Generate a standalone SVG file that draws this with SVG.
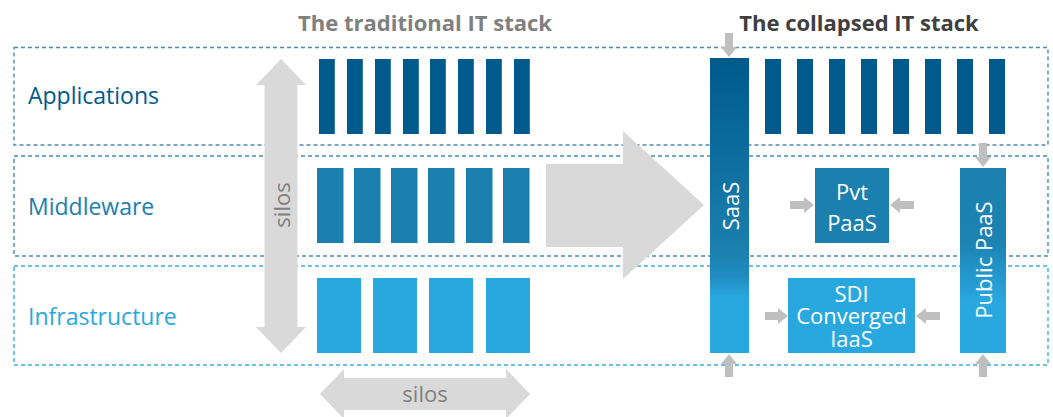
<svg xmlns="http://www.w3.org/2000/svg" width="1053" height="417" viewBox="0 0 1053 417">
  <style>
    text { font-family: "Open Sans", "Liberation Sans", sans-serif; }
    .title { font-size: 22px; font-weight: bold; text-anchor: middle; }
    .lane { fill: none; stroke-width: 1.4; stroke-dasharray: 4 3; }
    .label { font-size: 23px; }
    .app { fill: #005a8c; }
    .mid { fill: #1b80ad; }
    .infra { fill: #29a8e0; }
    .node-text { font-size: 22px; fill: #ffffff; text-anchor: middle; }
    .silo { fill: #d9d9d9; }
    .silo-text { font-size: 22px; fill: #7f7f7f; text-anchor: middle; }
    .feed { fill: #bfbfbf; }
  </style>
  <defs>
    <linearGradient id="saasFill" gradientUnits="userSpaceOnUse" x1="0" y1="58" x2="0" y2="353">
      <stop offset="0" stop-color="#005a8c"/>
      <stop offset="0.32" stop-color="#0c6c9e"/>
      <stop offset="0.65" stop-color="#1b80ad"/>
      <stop offset="0.74" stop-color="#1f8cc0"/>
      <stop offset="0.81" stop-color="#29a8e0"/>
      <stop offset="1" stop-color="#29a8e0"/>
    </linearGradient>
    <linearGradient id="publicFill" gradientUnits="userSpaceOnUse" x1="0" y1="168" x2="0" y2="353">
      <stop offset="0" stop-color="#1b80ad"/>
      <stop offset="0.4" stop-color="#1c83b2"/>
      <stop offset="0.72" stop-color="#29a8e0"/>
      <stop offset="1" stop-color="#29a8e0"/>
    </linearGradient>
  </defs>

  <!-- headings -->
  <text class="title" x="425" y="31" fill="#808080">The traditional IT stack</text>
  <text class="title" x="859" y="31" fill="#404040">The collapsed IT stack</text>

  <!-- layer lanes -->
  <g id="lane-applications">
    <rect class="lane" x="14" y="47.5" width="1034" height="97.5" stroke="#4a8ab4"/>
    <text class="label" x="28" y="104" fill="#005a8c">Applications</text>
  </g>
  <g id="lane-middleware">
    <rect class="lane" x="14" y="156" width="1034" height="100" stroke="#3f8fbb"/>
    <text class="label" x="28" y="215" fill="#1b80ad">Middleware</text>
  </g>
  <g id="lane-infrastructure">
    <rect class="lane" x="14" y="266" width="1034" height="99" stroke="#3aaee2"/>
    <text class="label" x="28" y="325" fill="#29a8e0">Infrastructure</text>
  </g>

  <!-- traditional stack: siloed columns -->
  <g id="traditional-applications" class="app">
    <rect x="319" y="59" width="15.8" height="75"/>
    <rect x="347" y="59" width="15.8" height="75"/>
    <rect x="375" y="59" width="15.8" height="75"/>
    <rect x="403" y="59" width="15.8" height="75"/>
    <rect x="430" y="59" width="15.8" height="75"/>
    <rect x="458" y="59" width="15.8" height="75"/>
    <rect x="486" y="59" width="15.8" height="75"/>
    <rect x="514" y="59" width="15.8" height="75"/>
  </g>
  <g id="traditional-middleware" class="mid">
    <rect x="317" y="168" width="26.5" height="75"/>
    <rect x="354" y="168" width="26.5" height="75"/>
    <rect x="391" y="168" width="26.5" height="75"/>
    <rect x="428" y="168" width="26.5" height="75"/>
    <rect x="466" y="168" width="26.5" height="75"/>
    <rect x="503" y="168" width="26.5" height="75"/>
  </g>
  <g id="traditional-infrastructure" class="infra">
    <rect x="317" y="278" width="44" height="75"/>
    <rect x="373" y="278" width="44" height="75"/>
    <rect x="429" y="278" width="44" height="75"/>
    <rect x="486" y="278" width="44" height="75"/>
  </g>

  <!-- collapsed stack -->
  <g id="collapsed-applications" class="app">
    <rect x="765" y="59" width="16" height="75"/>
    <rect x="797" y="59" width="16" height="75"/>
    <rect x="829" y="59" width="16" height="75"/>
    <rect x="861" y="59" width="16" height="75"/>
    <rect x="893" y="59" width="16" height="75"/>
    <rect x="925" y="59" width="16" height="75"/>
    <rect x="957" y="59" width="16" height="75"/>
    <rect x="989" y="59" width="16" height="75"/>
  </g>
  <g id="saas">
    <rect x="710" y="58" width="39" height="295" fill="url(#saasFill)"/>
    <text class="node-text" transform="translate(739 206) rotate(-90)">SaaS</text>
  </g>
  <g id="pvt-paas">
    <rect class="mid" x="815" y="168" width="74" height="75"/>
    <text class="node-text" x="852" y="200">Pvt</text>
    <text class="node-text" x="852" y="231">PaaS</text>
  </g>
  <g id="sdi-converged-iaas">
    <rect class="infra" x="788" y="278" width="127" height="75"/>
    <text class="node-text" x="851.5" y="302">SDI</text>
    <text class="node-text" x="851.5" y="324">Converged</text>
    <text class="node-text" x="851.5" y="346.5">IaaS</text>
  </g>
  <g id="public-paas">
    <rect x="960" y="168" width="46" height="185" fill="url(#publicFill)"/>
    <text class="node-text" transform="translate(992 260) rotate(-90)">Public PaaS</text>
  </g>

  <!-- connectors -->
  <g id="connectors">
    <!-- silos, vertical -->
    <path class="silo" d="M281,59 L306,85 H297.5 V327 H306 L281,353 L256,327 H264.5 V85 H256 Z"/>
    <text class="silo-text" transform="translate(290 205) rotate(-90)">silos</text>
    <!-- silos, horizontal -->
    <path class="silo" d="M320,394 L344,369 V378 H506 V369 L530,394 L506,419 V410 H344 V419 Z"/>
    <text class="silo-text" x="425" y="402">silos</text>
    <!-- traditional to collapsed -->
    <path class="silo" d="M546,164 H623 V131 L704,205 L623,279 V247 H546 Z"/>
    <!-- feeds into the collapsed services -->
    <path class="feed" d="M725,33 H733 V47 H737 L729,57 L721,47 H725 Z"/>
    <path class="feed" d="M979,143 H987 V157 H991 L983,167 L975,157 H979 Z"/>
    <path class="feed" d="M729,354 L737,364 H733 V377 H725 V364 H721 Z"/>
    <path class="feed" d="M983,354 L991,364 H987 V377 H979 V364 H975 Z"/>
    <path class="feed" d="M790,201 H804 V197 L814,205 L804,213 V209 H790 Z"/>
    <path class="feed" d="M914,201 H900 V197 L890,205 L900,213 V209 H914 Z"/>
    <path class="feed" d="M765,312 H778 V308 L788,316 L778,324 V320 H765 Z"/>
    <path class="feed" d="M940,312 H926 V308 L916,316 L926,324 V320 H940 Z"/>
  </g>
</svg>
